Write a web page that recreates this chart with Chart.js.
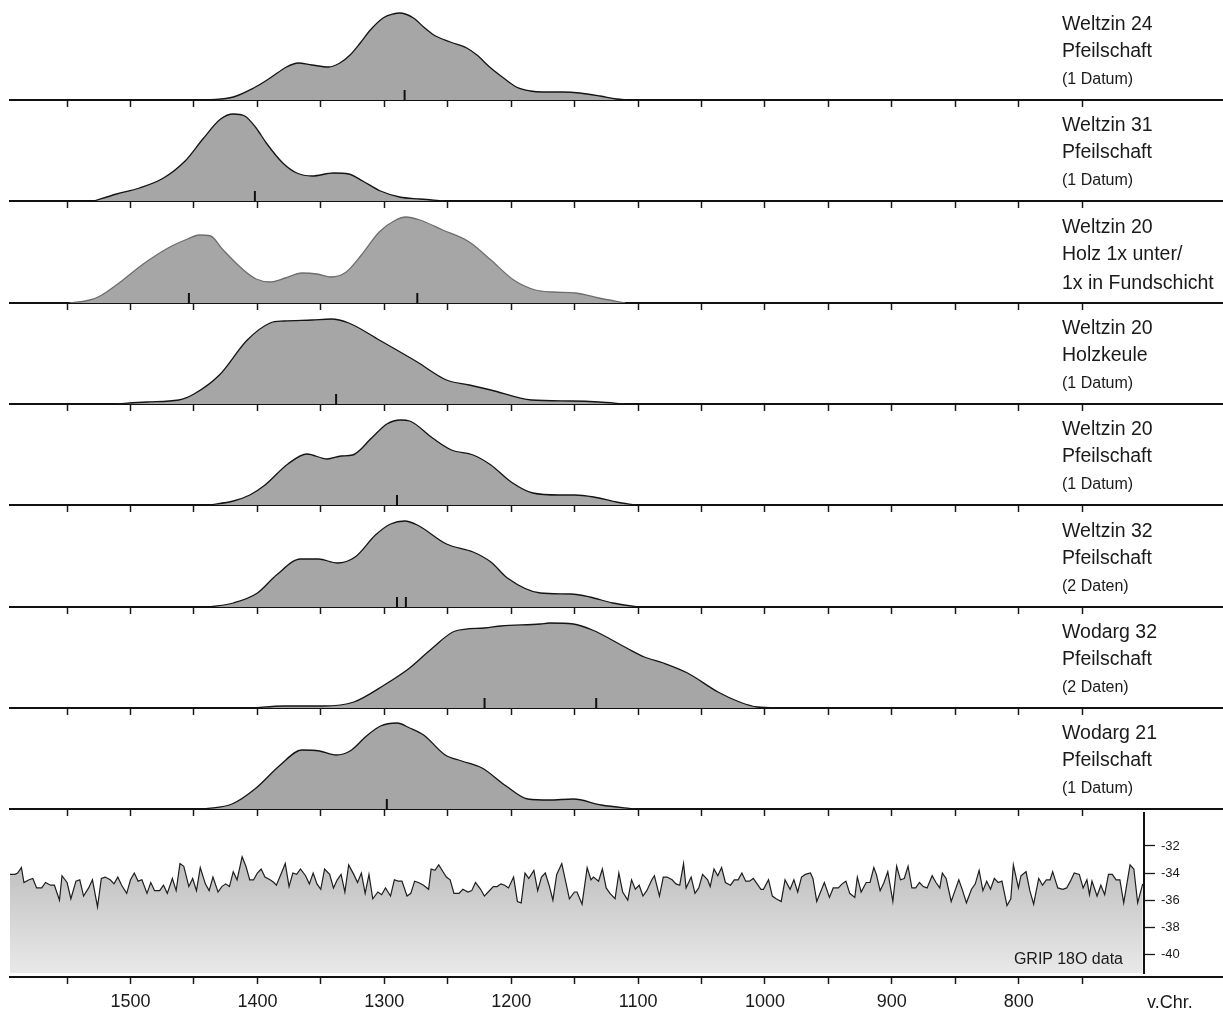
<!DOCTYPE html>
<html>
<head>
<meta charset="utf-8">
<script src="https://cdn.jsdelivr.net/npm/chart.js@4.4.0/dist/chart.umd.min.js"></script>
<style>
  body { margin: 0; background: #fff; }
  #wrap { position: relative; width: 1223px; height: 1012px; overflow: hidden; font-family: "Liberation Sans", Arial, sans-serif; color: #1a1a1a; }
  #wrap canvas { position: absolute; left: 0; }
  .lbl { position: absolute; left: 1062px; white-space: nowrap; line-height: 1; }
</style>
</head>
<body>
<div id="wrap"></div>
<script>
// calibrated dates (v.Chr.) and probability height of each sample
const p1Years = [1440,1419,1403,1390,1377,1368,1357,1344,1335,1327,1319,1311,1301,1293,1288,1277,1269,1261,1248,1235,1227,1217,1206,1196,1185,1175,1159,1146,1130,1117,1108];
const p1Prob  = [0,3,12,22,33,37,35,33,37,45,57,70,82,86,87,82,73,65,58,52,45,33,22,13,9,8,8,7,4,1,0];
const p2Years = [1529,1511,1493,1474,1457,1443,1429,1419,1410,1401,1393,1380,1369,1357,1340,1328,1317,1303,1288,1272,1252];
const p2Prob  = [0,7,13,23,40,62,82,87,85,73,58,38,28,25,28,27,20,10,4,2,0];
const p3Years = [1548,1532,1524,1508,1490,1469,1455,1446,1437,1427,1411,1401,1390,1378,1365,1353,1342,1330,1318,1304,1291,1283,1272,1254,1233,1216,1198,1181,1167,1149,1131,1110];
const p3Prob  = [0,3,7,21,39,56,64,68,67,53,33,24,21,25,30,29,26,31,48,71,83,86,83,73,61,43,23,13,11,10,5,0];
const p4Years = [1513,1487,1462,1450,1430,1408,1390,1379,1357,1342,1328,1304,1274,1251,1233,1216,1184,1152,1131,1110];
const p4Prob  = [0,2,4,10,29,64,81,83,84,85,81,64,42,24,19,14,4,3,2,0];
const p5Years = [1438,1419,1406,1394,1376,1361,1345,1334,1325,1310,1298,1287,1280,1262,1247,1230,1216,1200,1183,1162,1150,1135,1117,1102];
const p5Prob  = [0,4,10,20,41,51,46,49,50,67,81,85,84,67,55,50,40,23,12,10,10,8,3,0];
const p6Years = [1438,1419,1400,1385,1366,1352,1337,1323,1307,1295,1284,1274,1251,1230,1216,1203,1177,1153,1138,1120,1100];
const p6Prob  = [0,4,14,32,48,48,44,50,72,83,86,82,63,55,45,29,14,13,10,4,0];
const p7Years = [1404,1379,1348,1324,1300,1280,1262,1244,1221,1208,1177,1170,1151,1136,1109,1095,1080,1061,1037,1020,1006,986];
const p7Prob  = [0,2,2,6,23,40,60,77,80,82,84,85,84,78,60,51,45,35,16,6,1,0];
const p8Years = [1442,1420,1401,1382,1365,1351,1338,1327,1314,1303,1290,1280,1269,1252,1239,1223,1204,1187,1170,1151,1129,1102];
const p8Prob  = [0,5,21,44,59,58,54,58,73,83,86,81,74,54,48,41,23,10,9,10,4,0];

// median dates shown as small marks
const medians = [[1284], [1402], [1454, 1274], [1338], [1290], [1290, 1283], [1221, 1133], [1298]];

const titles = [
  ["Weltzin 24", "Pfeilschaft", "(1 Datum)"],
  ["Weltzin 31", "Pfeilschaft", "(1 Datum)"],
  ["Weltzin 20", "Holz 1x unter/", "1x in Fundschicht"],
  ["Weltzin 20", "Holzkeule", "(1 Datum)"],
  ["Weltzin 20", "Pfeilschaft", "(1 Datum)"],
  ["Weltzin 32", "Pfeilschaft", "(2 Daten)"],
  ["Wodarg 32", "Pfeilschaft", "(2 Daten)"],
  ["Wodarg 21", "Pfeilschaft", "(1 Datum)"]
];

// GRIP d18O record
const gripYears = [1595,1591,1589,1586,1584,1580,1577,1574,1570,1567,1563,1560,1556,1554,1550,1547,1543,1540,1537,1533,1530,1526,1523,1520,1516,1513,1510,1507,1503,1500,1497,1494,1491,1487,1484,1481,1477,1474,1471,1467,1464,1461,1458,1454,1451,1448,1445,1441,1438,1435,1431,1428,1425,1422,1419,1416,1412,1409,1406,1403,1400,1397,1394,1390,1387,1385,1381,1378,1375,1372,1369,1366,1362,1359,1356,1353,1350,1347,1343,1340,1337,1334,1331,1328,1324,1321,1318,1315,1312,1309,1305,
  1302,1299,1295,1292,1289,1286,1282,1279,1276,1273,1269,1265,1263,1260,1257,1253,1251,1248,1245,1241,1238,1234,1231,1228,1224,1221,1218,1214,1211,1208,1205,1202,1198,1195,1192,1189,1186,1182,1179,1176,1173,1170,1167,1164,1160,1157,1154,1150,1148,1144,1140,1137,1135,1131,1128,1125,1122,1118,1115,1112,1108,1105,1102,1099,1096,1093,1089,1087,1083,1080,1077,1073,1070,1067,1064,1062,1058,1055,1052,1049,1045,1043,1040,1037,1034,1031,1027,1024,1021,1018,1015,1012,1009,1006,1003,
  1001,997,994,991,987,984,980,977,974,971,968,964,962,959,956,953,949,946,942,939,936,933,929,927,924,920,917,914,912,909,906,903,899,896,893,890,887,884,881,878,875,872,868,865,862,860,857,853,850,847,844,841,837,834,831,828,825,822,819,816,813,809,806,804,800,798,794,791,788,784,781,778,775,773,769,765,762,759,756,752,749,746,744,742,738,735,732,729,726,723,720,717,712,709,706,702];
const gripD18O = [-34.1,-34.1,-34.0,-33.6,-34.7,-34.5,-34.4,-35.1,-35.1,-34.7,-34.9,-34.9,-36.0,-34.2,-34.7,-35.9,-34.6,-34.5,-35.7,-35.1,-34.5,-36.5,-34.4,-34.3,-34.5,-34.8,-34.3,-34.9,-35.5,-34.5,-34.0,-34.6,-34.5,-35.5,-34.7,-35.3,-35.3,-34.9,-35.5,-34.4,-35.3,-33.3,-33.5,-35.0,-34.4,-35.3,-33.6,-34.8,-35.3,-34.3,-35.4,-35.0,-34.8,-35.0,-33.9,-34.5,-32.8,-33.5,-34.5,-34.5,-34.0,-33.7,-34.3,-34.5,-34.7,-34.9,-34.0,-33.3,-35.0,-34.0,-34.1,-33.7,-34.2,-34.8,-34.0,-34.8,-35.2,-33.7,-34.1,-35.1,-34.5,-34.1,-35.4,-33.4,-34.1,-34.7,-34.0,-35.5,-34.1,-35.9,-35.4,
  -35.6,-35.1,-35.7,-34.5,-34.6,-34.6,-35.7,-35.5,-34.6,-34.7,-34.9,-35.2,-33.7,-33.8,-33.4,-34.0,-34.3,-34.5,-35.5,-35.5,-35.2,-35.4,-35.3,-34.7,-35.2,-35.7,-35.4,-35.0,-35.0,-34.8,-34.9,-35.1,-34.3,-36.1,-36.2,-34.0,-34.4,-33.8,-35.3,-34.3,-34.0,-34.9,-36.0,-34.1,-33.3,-34.6,-35.9,-35.4,-35.4,-36.3,-33.6,-34.5,-34.3,-34.6,-33.7,-35.1,-35.5,-35.9,-34.0,-35.4,-36.0,-34.5,-35.2,-34.9,-35.7,-35.3,-34.5,-34.2,-35.7,-34.3,-34.3,-34.5,-34.8,-34.9,-33.3,-35.1,-34.3,-35.5,-35.1,-34.1,-34.5,-35.0,-33.7,-34.2,-33.6,-34.7,-34.9,-34.5,-34.5,-34.0,-34.6,-34.6,-34.4,-34.8,-35.2,
  -35.2,-34.5,-35.7,-35.9,-36.1,-34.5,-35.2,-34.5,-35.4,-34.3,-34.1,-34.0,-34.4,-36.1,-35.4,-34.7,-35.8,-35.1,-35.1,-34.8,-34.6,-35.5,-35.8,-34.3,-35.4,-34.7,-34.7,-33.6,-34.1,-35.3,-34.7,-33.9,-36.1,-33.5,-34.5,-34.4,-33.5,-35.1,-35.1,-34.7,-35.0,-35.1,-34.2,-34.7,-35.1,-34.0,-34.4,-36.1,-35.3,-34.5,-35.3,-36.2,-35.2,-34.8,-33.8,-35.3,-34.6,-35.2,-34.4,-34.7,-34.6,-36.4,-35.9,-33.4,-35.1,-34.2,-33.9,-35.3,-36.3,-34.4,-34.9,-34.5,-34.5,-33.9,-35.1,-35.2,-35.1,-34.6,-34.0,-34.1,-35.1,-34.5,-35.6,-34.6,-35.7,-34.9,-35.6,-34.1,-34.1,-34.5,-34.5,-36.2,-33.4,-33.7,-36.2,-34.8];

const tickYears = [1550,1500,1450,1400,1350,1300,1250,1200,1150,1100,1050,1000,950,900,850,800,750];
const gripTicks = [-40,-38,-36,-34,-32];

const yearMax = 1595;     // left edge
const yearMinFull = 639;  // right edge of the panels
const yearMinGrip = 701;  // GRIP plot ends at its axis
const baselines = [100, 201, 303, 404, 505, 607, 708, 809];
const gripBottom = 977;

const panels = [
  { years: p1Years, prob: p1Prob, line: '#141414' },
  { years: p2Years, prob: p2Prob, line: '#141414' },
  { years: p3Years, prob: p3Prob, line: '#6e6e6e' },
  { years: p4Years, prob: p4Prob, line: '#141414' },
  { years: p5Years, prob: p5Prob, line: '#141414' },
  { years: p6Years, prob: p6Prob, line: '#141414' },
  { years: p7Years, prob: p7Prob, line: '#141414' },
  { years: p8Years, prob: p8Prob, line: '#141414' }
];

Chart.defaults.font.family = '"Liberation Sans", Arial, sans-serif';
Chart.defaults.animation = false;
Chart.defaults.plugins.legend.display = false;
Chart.defaults.plugins.tooltip.enabled = false;

const wrap = document.getElementById('wrap');

function addCanvas(top, height) {
  const c = document.createElement('canvas');
  c.width = 1223;
  c.height = height;
  c.style.top = top + 'px';
  c.style.width = '1223px';
  c.style.height = height + 'px';
  wrap.appendChild(c);
  return c;
}

function xAxis(min, showLabels) {
  return {
    type: 'linear',
    min: min,
    max: yearMax,
    reverse: true,
    afterBuildTicks: (s) => { s.ticks = tickYears.map(v => ({ value: v })); },
    grid: { drawOnChartArea: false, drawTicks: true, tickLength: 7, tickColor: '#1a1a1a', tickWidth: 1.5 },
    border: { display: true, color: '#111', width: 2 },
    ticks: {
      display: showLabels,
      autoSkip: false,
      maxRotation: 0,
      padding: 7,
      color: '#1a1a1a',
      font: { size: 18 },
      callback: (v) => (v % 100 === 0 ? String(v) : '')
    }
  };
}

// the eight probability panels
panels.forEach((p, i) => {
  const canvas = addCanvas(baselines[i] - 105, 112);
  new Chart(canvas, {
    type: 'line',
    data: {
      datasets: [
        {
          order: 2,
          data: p.years.map((y, k) => ({ x: y, y: p.prob[k] })),
          borderColor: p.line,
          borderWidth: 1.3,
          backgroundColor: '#a6a6a6',
          fill: 'origin',
          pointRadius: 0,
          cubicInterpolationMode: 'monotone'
        },
        {
          order: 1,
          data: medians[i].map(m => ({ x: m, y: 5 })),
          showLine: false,
          pointStyle: 'line',
          pointRotation: 90,
          pointRadius: 5,
          pointBorderWidth: 2,
          pointBorderColor: '#111',
          borderColor: '#111',
          backgroundColor: '#111'
        }
      ]
    },
    options: {
      responsive: false,
      layout: { autoPadding: false, padding: { top: 5, left: 10, right: 0, bottom: 0 } },
      scales: {
        x: xAxis(yearMinFull, false),
        y: { display: false, min: 0, max: 100 }
      }
    }
  });

  titles[i].forEach((t, j) => {
    const small = t.startsWith('(');
    const fs = small ? 16 : 19.5;
    const center = baselines[i] + [-77, -50, -21][j];
    const d = document.createElement('div');
    d.className = 'lbl';
    d.textContent = t;
    d.style.fontSize = fs + 'px';
    d.style.top = (center - (small ? 7.8 : 9.5)) + 'px';
    wrap.appendChild(d);
  });
});

// GRIP panel
const gripCanvas = addCanvas(baselines[7] - 10, gripBottom - baselines[7] + 20);
new Chart(gripCanvas, {
  type: 'line',
  data: {
    datasets: [{
      data: gripYears.map((y, k) => ({ x: y, y: gripD18O[k] })),
      borderColor: '#1e1e1e',
      borderWidth: 1.2,
      pointRadius: 0,
      tension: 0,
      fill: 'start',
      backgroundColor: (ctx) => {
        const a = ctx.chart.chartArea;
        if (!a) return '#c8c8c8';
        const g = ctx.chart.ctx.createLinearGradient(0, a.top, 0, a.bottom);
        g.addColorStop(0, '#acacac');
        g.addColorStop(1, '#e9e9e9');
        return g;
      }
    }]
  },
  options: {
    responsive: false,
    layout: { autoPadding: false, padding: { top: 10, bottom: 10, left: 10, right: 0 } },
    scales: {
      x: { type: 'linear', display: false, min: yearMinGrip, max: yearMax, reverse: true },
      y: {
        position: 'right',
        min: -41.4,
        max: -29.55,
        afterBuildTicks: (s) => { s.ticks = gripTicks.map(v => ({ value: v })); },
        afterFit: (s) => { s.width = 1223 - 1144; },
        grid: { drawOnChartArea: false, tickLength: 11, tickColor: '#1a1a1a', tickWidth: 1.3 },
        border: { display: true, color: '#111', width: 2 },
        ticks: { padding: 6, color: '#1a1a1a', font: { size: 13 } }
      }
    }
  }
});

// shared year axis at the bottom
const axisCanvas = addCanvas(gripBottom - 25, 60);
new Chart(axisCanvas, {
  type: 'line',
  data: { datasets: [] },
  options: {
    responsive: false,
    layout: { autoPadding: false, padding: { top: 0, left: 10, right: 0, bottom: 0 } },
    scales: {
      x: Object.assign(xAxis(yearMinFull, true), { afterFit: (s) => { s.height = 35; } }),
      y: { display: false, min: 0, max: 1 }
    }
  }
});

function addText(txt, size, css) {
  const d = document.createElement('div');
  d.className = 'lbl';
  d.textContent = txt;
  d.style.fontSize = size + 'px';
  Object.assign(d.style, css);
  wrap.appendChild(d);
}
addText('GRIP 18O data', 16, { left: 'auto', right: '100px', top: '951px' });
addText('v.Chr.', 18, { left: '1147px', top: '993px' });
</script>
</body>
</html>
